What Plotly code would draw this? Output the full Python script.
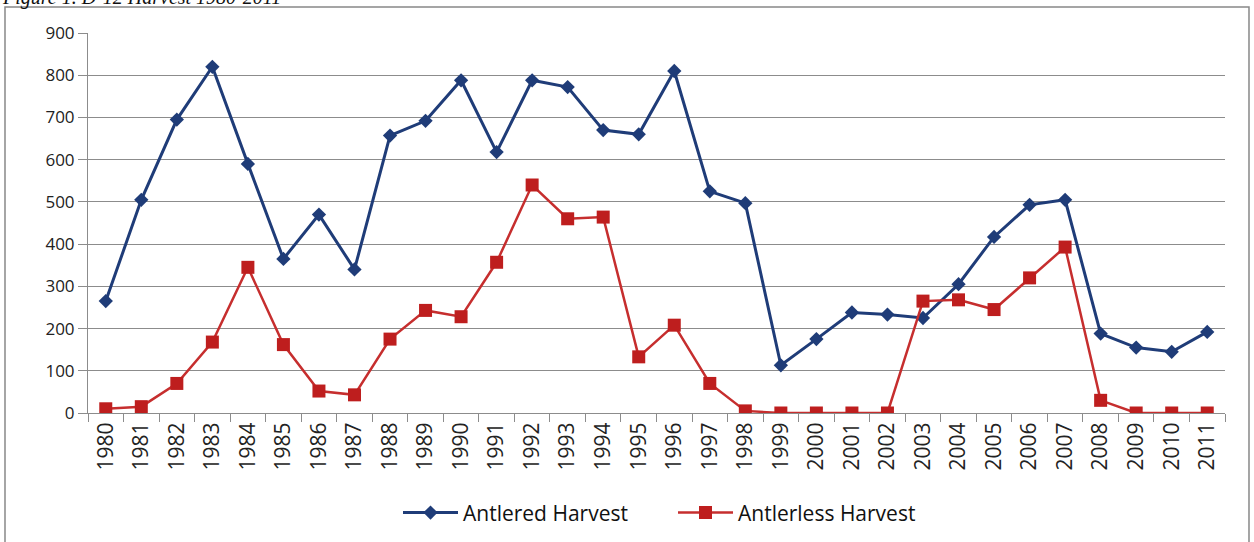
import plotly.graph_objects as go

years = [str(y) for y in range(1980, 2012)]
antlered = [265, 505, 695, 820, 590, 365, 470, 340, 657, 692, 788, 618, 788, 772, 670, 660,
            810, 525, 497, 113, 175, 238, 233, 225, 305, 417, 493, 505, 188, 155, 145, 192]
antlerless = [10, 15, 70, 168, 345, 162, 52, 43, 175, 243, 228, 357, 540, 460, 464, 133,
              208, 70, 5, 0, 0, 0, 0, 265, 268, 245, 320, 393, 30, 0, 0, 0]
y_ticks = list(range(0, 1000, 100))

BLUE = "#1F3C78"
RED = "#BE1E1E"
RED_LINE = "#C62E2E"
GRID = "#8C8C8C"
FONT = "Open Sans"

fig = go.Figure()
fig.add_trace(go.Scatter(
    x=years, y=antlered, name="Antlered Harvest", mode="lines+markers",
    line=dict(color=BLUE, width=3),
    marker=dict(symbol="diamond", size=11, color=BLUE),
))
fig.add_trace(go.Scatter(
    x=years, y=antlerless, name="Antlerless Harvest", mode="lines+markers",
    line=dict(color=RED_LINE, width=2.5),
    marker=dict(symbol="square", size=13, color=RED),
))

fig.update_layout(
    width=1254, height=542,
    margin=dict(l=88, r=29, t=33, b=129, autoexpand=False),
    paper_bgcolor="white", plot_bgcolor="white",
    font=dict(family=FONT, color="#222222", size=17),
    showlegend=True,
    legend=dict(orientation="h", x=(398 - 88) / 1137, xanchor="left", y=-0.263, yanchor="middle",
                font=dict(size=21, family=FONT, color="#111111"),
                itemwidth=55, entrywidth=205, entrywidthmode="pixels", tracegroupgap=0),
    xaxis=dict(
        type="category", showgrid=False, showline=True, linecolor=GRID, linewidth=1,
        ticks="outside", ticklen=8, tickcolor=GRID, tickson="boundaries",
        tickangle=-90, tickfont=dict(size=21, family=FONT, color="#222222"),
        range=[-0.5, 31.5], fixedrange=True,
    ),
    yaxis=dict(
        range=[0, 900], tickvals=y_ticks, showgrid=True, gridcolor=GRID, gridwidth=1,
        showline=True, linecolor=GRID, linewidth=1, zeroline=False,
        ticks="outside", ticklen=9, tickcolor=GRID,
        tickfont=dict(size=17, family=FONT, color="#222222"),
        fixedrange=True,
    ),
    shapes=[
        dict(type="rect", xref="paper", yref="paper", x0=-0.073, x1=1.0211,
             y0=-0.36, y1=1.0684, line=dict(color="#888888", width=1.5), layer="below"),
    ],
    annotations=[
        dict(text="<i>Figure 1. D-12 Harvest 1980-2011</i>", xref="paper", yref="paper",
             x=-0.0774, xanchor="left", y=1.058, yanchor="bottom", showarrow=False,
             font=dict(family="Liberation Serif", size=20, color="#111111")),
    ],
)

fig.write_html("out.html", config={"displayModeBar": False},
               post_script="document.body.style.margin='0';")
